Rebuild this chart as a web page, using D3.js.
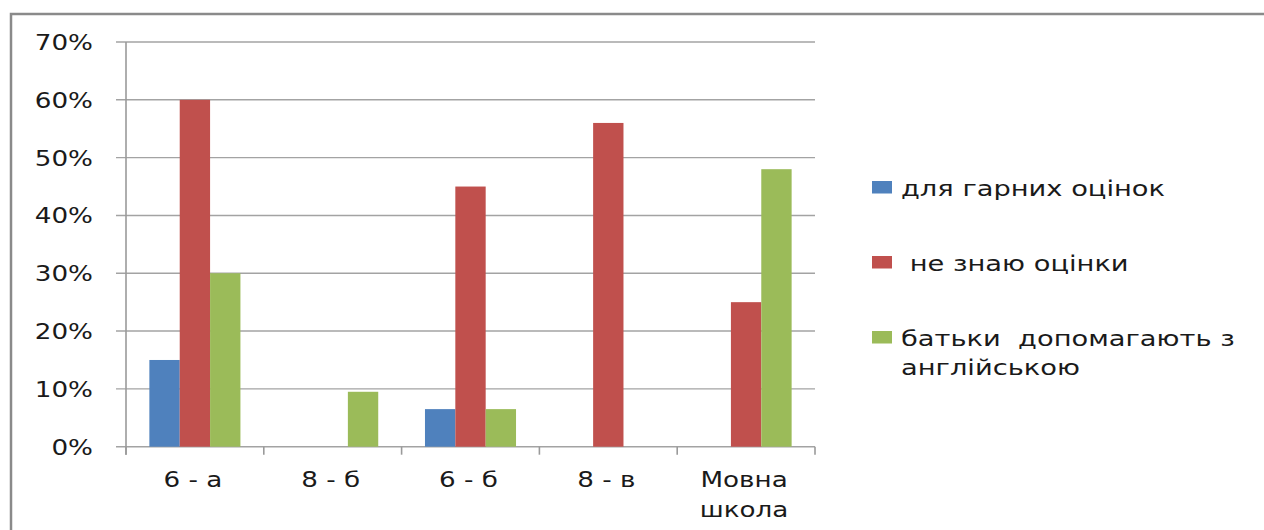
<!DOCTYPE html>
<html>
<head>
<meta charset="utf-8">
<script src="https://cdn.jsdelivr.net/npm/d3@7"></script>
<style>
  html, body { margin: 0; padding: 0; background: #ffffff; }
  svg { display: block; }
  text { font-family: "DejaVu Sans", Verdana, sans-serif; fill: #1a1a1a; }
</style>
</head>
<body>
<svg id="chart" width="1264" height="530"></svg>
<script>
// Classes surveyed
const categories = ["6 - а", "8 - б", "6 - б", "8 - в", "Мовна школа"];

// Series names (legend order)
const seriesNames = ["для гарних оцінок", " не знаю оцінки", "батьки  допомагають з англійською"];

// Shares of answers per class
const goodGrades    = [0.15, 0.00, 0.065, 0.00, 0.00];
const unknownGrades = [0.60, 0.00, 0.45,  0.56, 0.25];
const parentsHelp   = [0.30, 0.095, 0.065, 0.00, 0.48];

// Value-axis ticks
const yTicks = [0, 0.1, 0.2, 0.3, 0.4, 0.5, 0.6, 0.7];

const seriesValues = [goodGrades, unknownGrades, parentsHelp];
const colors = ["#4f81bd", "#c0504d", "#9bbb59"];

const svg = d3.select("#chart");

// Outer frame (left and top edges visible)
svg.append("rect")
  .attr("x", 11).attr("y", 14)
  .attr("width", 1300).attr("height", 600)
  .attr("fill", "none")
  .attr("stroke", "#8a8a8a")
  .attr("stroke-width", 2.5);

const plot = { left: 126, right: 815, top: 42, bottom: 446.7 };

const x = d3.scaleBand()
  .domain(categories)
  .range([plot.left, plot.right])
  .paddingInner(0).paddingOuter(0);

const xSeries = d3.scaleBand()
  .domain(d3.range(seriesNames.length))
  .range([0, x.bandwidth()])
  .paddingInner(0)
  .paddingOuter(0.77);

const y = d3.scaleLinear()
  .domain([0, 0.7])
  .range([plot.bottom, plot.top]);

// Stretched text helper
function stretchedText(g, str, tx, ty, size, sx, anchor) {
  return g.append("text")
    .attr("transform", `translate(${tx},${ty}) scale(${sx},1)`)
    .attr("font-size", size)
    .attr("text-anchor", anchor || "start")
    .attr("xml:space", "preserve")
    .style("white-space", "pre")
    .text(str);
}

// Horizontal gridlines
svg.append("g").selectAll("line")
  .data(yTicks)
  .join("line")
  .attr("x1", plot.left - 10).attr("x2", plot.right)
  .attr("y1", d => y(d)).attr("y2", d => y(d))
  .attr("stroke", "#a3a3a3")
  .attr("stroke-width", 1.4);

// Y axis line
svg.append("line")
  .attr("x1", plot.left).attr("x2", plot.left)
  .attr("y1", y(0.7)).attr("y2", y(0) + 8)
  .attr("stroke", "#9a9a9a").attr("stroke-width", 1.6);

// X-axis boundary ticks
const boundaries = categories.map(c => x(c)).concat([plot.right]);
svg.append("g").selectAll("line")
  .data(boundaries)
  .join("line")
  .attr("x1", d => d).attr("x2", d => d)
  .attr("y1", y(0)).attr("y2", y(0) + 8)
  .attr("stroke", "#9a9a9a").attr("stroke-width", 1.6);

// Bars
const barsG = svg.append("g");
seriesValues.forEach((vals, si) => {
  barsG.append("g").selectAll("rect")
    .data(categories.map((c, i) => ({ c, v: vals[i] })).filter(d => d.v > 0))
    .join("rect")
    .attr("x", d => x(d.c) + xSeries(si))
    .attr("width", xSeries.bandwidth())
    .attr("y", d => y(d.v))
    .attr("height", d => y(0) - y(d.v))
    .attr("fill", colors[si]);
});

// Y tick labels
const yLab = svg.append("g");
yTicks.forEach(t => {
  stretchedText(yLab, d3.format(".0%")(t), 93, y(t) + 8, 22, 1.19, "end");
});

// Category labels (wrapped on spaces for multi-word names)
const xLab = svg.append("g");
categories.forEach(c => {
  const lines = c.includes(" - ") ? [c] : c.split(" ");
  lines.forEach((ln, li) => {
    stretchedText(xLab, ln, x(c) + x.bandwidth() / 2 - 2, 487 + li * 30, 22, 1.19, "middle");
  });
});

// Legend
const legend = svg.append("g");
const legendRows = [
  { lines: [seriesNames[0]], y: 181 },
  { lines: [seriesNames[1]], y: 256 },
  { lines: ["батьки  допомагають з", "англійською"], y: 331 }
];
legendRows.forEach((row, i) => {
  legend.append("rect")
    .attr("x", 872).attr("y", row.y)
    .attr("width", 20).attr("height", 12.5)
    .attr("fill", colors[i]);
  row.lines.forEach((ln, li) => {
    stretchedText(legend, ln, 901, row.y + 15 + li * 28.5, 21, 1.3, "start");
  });
});
</script>
</body>
</html>
